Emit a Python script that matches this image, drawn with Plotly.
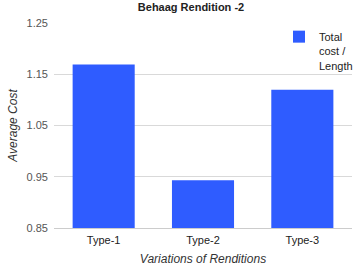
import plotly.graph_objects as go

categories = ["Type-1", "Type-2", "Type-3"]
values = [1.169, 0.943, 1.12]
series_name = "Total<br>cost /<br>Length"
y_ticks = [0.85, 0.95, 1.05, 1.15, 1.25]
y_ticklabels = ["0.85", "0.95", "1.05", "1.15", "1.25"]
y_base = 0.85

BAR_COLOR = "#2f5cff"
FONT = "Liberation Sans, Arial, sans-serif"

fig = go.Figure()
fig.add_trace(go.Bar(
    x=categories, y=[v - y_base for v in values], base=y_base,
    name=series_name,
    marker=dict(color=BAR_COLOR, line=dict(width=0)),
    showlegend=True,
))

fig.update_layout(
    width=355, height=266,
    margin=dict(l=54, r=3, t=23, b=38, autoexpand=False),
    paper_bgcolor="white", plot_bgcolor="white",
    font=dict(family=FONT, size=11, color="#444"),
    bargap=0.375,
    title=dict(text="<b>Behaag Rendition -2</b>", x=191 / 355, xanchor="center",
               y=1 - 7 / 266, yanchor="middle",
               font=dict(family=FONT, size=11, color="#222")),
    showlegend=True,
    legend=dict(x=(279 - 54) / 298, y=1.0, xanchor="left", yanchor="top",
                bgcolor="rgba(0,0,0,0)", valign="top",
                font=dict(family=FONT, size=11, color="#222"),
                itemwidth=30, tracegroupgap=0),
    xaxis=dict(showgrid=False, showline=True, linecolor="#cccccc", linewidth=1,
               ticks="", automargin=False, ticklabelstandoff=2,
               tickfont=dict(family=FONT, size=11, color="#222"),
               title=dict(text="<i>Variations of Renditions</i>", standoff=11,
                          font=dict(family=FONT, size=12, color="#333"))),
    yaxis=dict(range=[0.85, 1.25], tickmode="array",
               tickvals=y_ticks, ticktext=y_ticklabels,
               showgrid=True, gridcolor="#d9d9d9", gridwidth=1,
               zeroline=False, showline=False, ticks="", automargin=False,
               ticklabelstandoff=5,
               tickfont=dict(family=FONT, size=11, color="#555"),
               title=dict(text="<i>Average Cost</i>", standoff=6,
                          font=dict(family=FONT, size=12, color="#333"))),
)

fig.write_html(
    "out.html",
    config={"displayModeBar": False},
    post_script="document.body.style.margin='0';document.body.style.overflow='hidden';",
)
